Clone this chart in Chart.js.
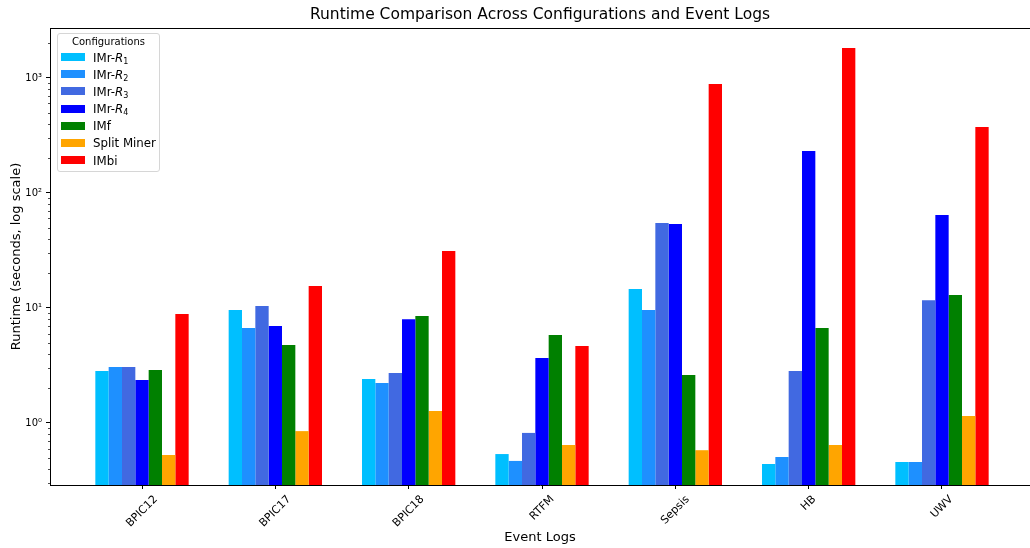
<!DOCTYPE html>
<html>
<head>
<meta charset="utf-8">
<script src="https://cdn.jsdelivr.net/npm/chart.js@4"></script>
<style>
  body { margin: 0; background: #fff; }
  #wrap { position: relative; width: 1030px; height: 548px; }
  #legend {
    position: absolute; left: 57px; top: 33px; width: 103px; height: 139px;
    box-sizing: border-box; border: 1px solid #d6d6d6; border-radius: 3px;
    background: rgba(255,255,255,0.8); font-family: 'DejaVu Sans', sans-serif; color: #000;
  }
  #legend .ttl { height: 15.5px; line-height: 15.5px; font-size: 10px; text-align: center; }
  #legend .row { height: 17.2px; line-height: 17.2px; font-size: 11.8px; white-space: nowrap; }
  #legend .sw { display: inline-block; width: 24px; height: 8px; margin: 0 8px 0 3px; vertical-align: middle; position: relative; top: -1px; }
  #legend sub { font-size: 8px; line-height: 0; vertical-align: -2px; }
</style>
</head>
<body>
<div id="wrap">
  <canvas id="myChart" width="1030" height="548"></canvas>
  <div id="legend"></div>
</div>
<script>
const logs = ['BPIC12', 'BPIC17', 'BPIC18', 'RTFM', 'Sepsis', 'HB', 'UWV'];
const configs = ['IMr-R1', 'IMr-R2', 'IMr-R3', 'IMr-R4', 'IMf', 'Split Miner', 'IMbi'];
const colors = ['#00BFFF', '#1E90FF', '#4169E1', '#0000FF', '#008000', '#FFA500', '#FF0000'];

// runtime in seconds, one value per event log
const imrR1 = [2.83, 9.6, 2.41, 0.537, 14.6, 0.44, 0.458];
const imrR2 = [3.07, 6.7, 2.23, 0.468, 9.6, 0.506, 0.458];
const imrR3 = [3.07, 10.4, 2.72, 0.82, 54.8, 2.83, 11.7];
const imrR4 = [2.37, 6.97, 8.0, 3.67, 53.7, 232, 64.4];
const imf = [2.89, 4.77, 8.5, 5.82, 2.61, 6.7, 13.0];
const splitMiner = [0.527, 0.85, 1.27, 0.644, 0.58, 0.644, 1.15];
const imbi = [8.87, 15.5, 31.3, 4.67, 887, 1824, 375];

const series = [imrR1, imrR2, imrR3, imrR4, imf, splitMiner, imbi];
const sup = { '0': '\u2070', '1': '\u00B9', '2': '\u00B2', '3': '\u00B3' };
const FONT = 'DejaVu Sans';

function isMajor(v) {
    const l = Math.log10(v);
    return Math.abs(l - Math.round(l)) < 1e-9;
}

const extras = {
    id: 'extras',
    afterDraw(chart) {
        const ctx = chart.ctx;
        const area = chart.chartArea;
        const x = chart.scales.x;
        const y = chart.scales.y;
        ctx.save();
        // top spine
        ctx.strokeStyle = '#000';
        ctx.lineWidth = 1;
        ctx.beginPath();
        ctx.moveTo(area.left, Math.round(area.top) + 0.5);
        ctx.lineTo(area.right, Math.round(area.top) + 0.5);
        ctx.stroke();
        // minor y ticks
        ctx.lineWidth = 0.7;
        y.ticks.forEach(t => {
            if (isMajor(t.value)) return;
            const py = Math.round(y.getPixelForValue(t.value)) + 0.5;
            ctx.beginPath();
            ctx.moveTo(area.left - 2, py);
            ctx.lineTo(area.left, py);
            ctx.stroke();
        });
        // rotated category labels, centred under the tick
        ctx.fillStyle = '#000';
        ctx.font = '11px "' + FONT + '"';
        ctx.textAlign = 'center';
        ctx.textBaseline = 'middle';
        logs.forEach((lab, i) => {
            const px = x.getPixelForValue(i);
            const w = ctx.measureText(lab).width;
            const h = 13;
            const cy = area.bottom + 8 + (w + h) * Math.SQRT1_2 / 2;
            ctx.save();
            ctx.translate(px, cy);
            ctx.rotate(-Math.PI / 4);
            ctx.fillText(lab, 0, 0);
            ctx.restore();
        });
        ctx.restore();
    }
};

const ctx = document.getElementById('myChart').getContext('2d');
const chart = new Chart(ctx, {
    type: 'bar',
    data: {
        datasets: configs.map((name, i) => ({
            label: name,
            data: series[i].map((v, j) => ({ x: j, y: v })),
            backgroundColor: colors[i],
            borderWidth: 0,
            barPercentage: 1,
            categoryPercentage: 0.7
        }))
    },
    options: {
        responsive: false,
        animation: false,
        devicePixelRatio: 1,
        layout: { padding: { left: 0, right: 0, top: 0, bottom: 0 } },
        plugins: {
            legend: { display: false },
            tooltip: { enabled: false },
            title: {
                display: true,
                fullSize: false,
                text: 'Runtime Comparison Across Configurations and Event Logs',
                color: '#000',
                font: { family: FONT, size: 15.5, weight: 'normal' },
                padding: { top: 5.7, bottom: 3.7 }
            }
        },
        scales: {
            x: {
                type: 'linear',
                min: -0.69,
                max: 6.66,
                offset: false,
                grid: { display: true, offset: false, drawOnChartArea: false, tickLength: 4, color: '#000' },
                border: { color: '#000', width: 1 },
                ticks: { display: false },
                afterBuildTicks: s => { s.ticks = logs.map((_, i) => ({ value: i })); },
                afterFit: s => { s.height = 63; },
                title: {
                    display: true,
                    text: 'Event Logs',
                    color: '#000',
                    font: { family: FONT, size: 13 },
                    padding: { top: 0, bottom: 2.2 }
                }
            },
            y: {
                type: 'logarithmic',
                min: 0.289,
                max: 2720,
                grid: {
                    display: true,
                    drawOnChartArea: false,
                    tickLength: 4,
                    color: '#000',
                    tickColor: c => (c.tick && isMajor(c.tick.value)) ? '#000' : 'rgba(0,0,0,0)'
                },
                border: { color: '#000', width: 1 },
                afterBuildTicks: s => {
                    const t = [];
                    for (let e = -1; e <= 3; e++) {
                        for (let k = 1; k <= 9; k++) {
                            const v = k * Math.pow(10, e);
                            if (v >= s.min && v <= s.max) t.push({ value: v });
                        }
                    }
                    s.ticks = t;
                },
                afterFit: s => { s.width = 50; },
                ticks: {
                    autoSkip: false,
                    padding: 4,
                    color: '#000',
                    font: { family: FONT, size: 10 },
                    callback: v => isMajor(v) ? '10' + sup[String(Math.round(Math.log10(v)))] : ''
                },
                title: {
                    display: true,
                    text: 'Runtime (seconds, log scale)',
                    color: '#000',
                    font: { family: FONT, size: 13 },
                    padding: { top: 9, bottom: 0 }
                }
            }
        }
    },
    plugins: [extras]
});

// legend inside the plot, built from the chart's datasets
const legendEl = document.getElementById('legend');
let html = '<div class="ttl">Configurations</div>';
chart.data.datasets.forEach(ds => {
    const name = ds.label.replace(/^IMr-R(\d)$/, 'IMr-<i>R</i><sub>$1</sub>');
    html += '<div class="row"><span class="sw" style="background:' + ds.backgroundColor + '"></span>' + name + '</div>';
});
legendEl.innerHTML = html;
</script>
</body>
</html>
